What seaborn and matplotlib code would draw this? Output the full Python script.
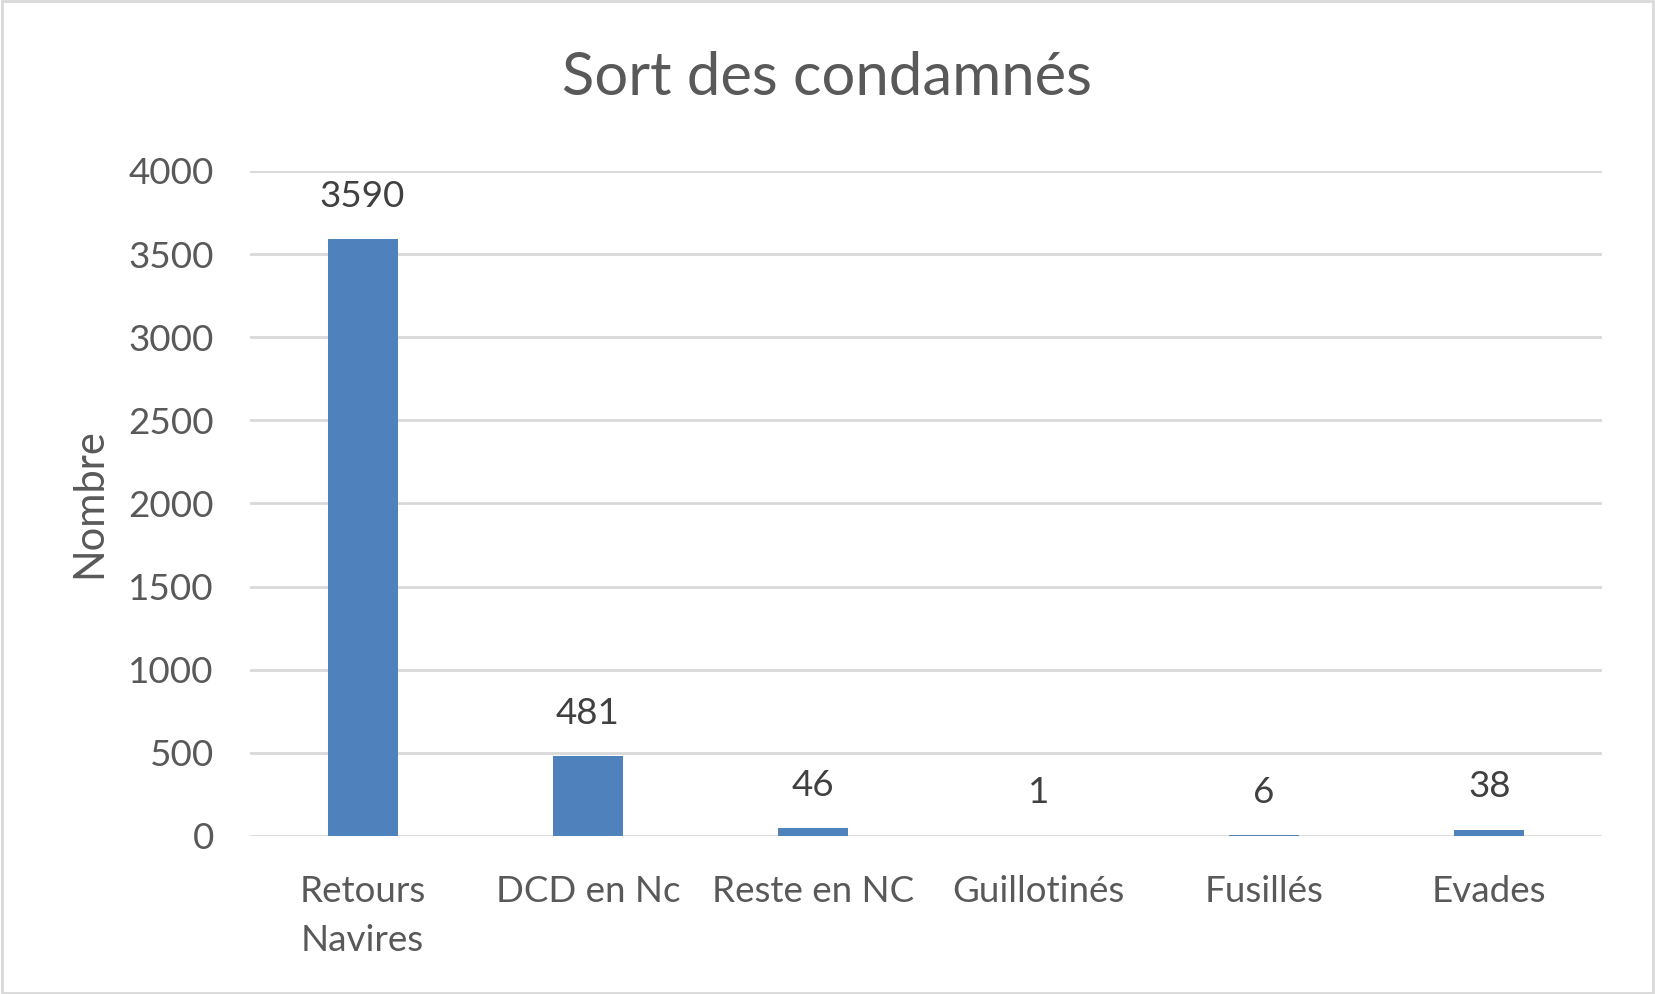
import matplotlib
matplotlib.use('Agg')
import matplotlib.pyplot as plt
import seaborn as sns
import pandas as pd

# Données
categories = ['Retours\nNavires', 'DCD en Nc', 'Reste en NC', 'Guillotinés', 'Fusillés', 'Evades']
valeurs = [3590, 481, 46, 1, 6, 38]
graduations = [0, 500, 1000, 1500, 2000, 2500, 3000, 3500, 4000]

df = pd.DataFrame({'Sort': categories, 'Nombre': valeurs})

sns.set_style('white')
plt.rcParams['font.family'] = ['Lato', 'DejaVu Sans']
gris = '#595959'

fig = plt.figure(figsize=(16.55, 9.94), dpi=100)
ax = fig.add_axes([0.151, 0.159, 0.817, 0.669])

sns.barplot(data=df, x='Sort', y='Nombre', color='#4F81BD', width=0.31,
            saturation=1, linewidth=0, edgecolor='none', ax=ax, zorder=3)

ax.set_ylim(0, 4000)
ax.set_yticks(graduations)
ax.yaxis.grid(True, color='#D9D9D9', linewidth=2, zorder=0)
ax.set_axisbelow(True)
for s in ax.spines.values():
    s.set_visible(False)
ax.tick_params(axis='both', length=0, labelsize=26.5, colors=gris)
ax.tick_params(axis='x', pad=28)
ax.tick_params(axis='y', pad=26)
for lab in ax.get_xticklabels():
    lab.set_linespacing(1.6)
ax.set_xlabel('')
ax.set_ylabel('Nombre', fontsize=30, color=gris, labelpad=14)

# étiquettes de valeurs
for i, v in enumerate(valeurs):
    ax.annotate(str(v), (i, v), xytext=(0, 19), textcoords='offset points',
                ha='center', va='bottom', fontsize=26.5, color='#404040')

fig.text(0.5, 0.922, 'Sort des condamnés', fontsize=43, color=gris,
         ha='center', va='center')

# cadre autour de la figure
fig.patches.append(plt.Rectangle((0.001, 0.001), 0.998, 0.998, transform=fig.transFigure,
                                 fill=False, edgecolor='#D9D9D9', linewidth=2))

fig.savefig('out.png', dpi=100)
